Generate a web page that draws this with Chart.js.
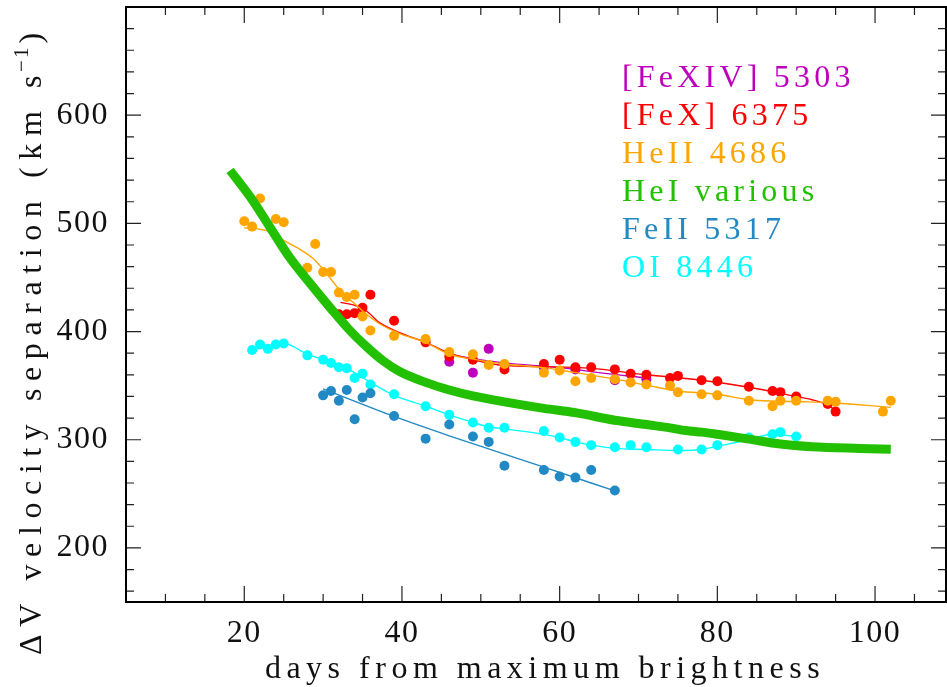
<!DOCTYPE html>
<html>
<head>
<meta charset="utf-8">
<script src="https://cdn.jsdelivr.net/npm/chart.js@4"></script>
<style>
  html, body { margin: 0; padding: 0; background: #fff; }
  #wrap { width: 947px; height: 687px; }
</style>
</head>
<body>
<div id="wrap"><canvas id="chart" width="947" height="687"></canvas></div>
<script>
// --- measured line separations (days after max, km/s) ---
const fexivDays = [46, 49, 51, 58, 62, 67, 71];
const fexivVel  = [372, 362, 384, 367, 365, 355, 356];

const fexDays = [32, 33, 34, 35, 36, 39, 43, 46, 49, 53, 58, 60, 62, 64, 67, 69, 71, 74, 75, 78, 80, 84, 87, 88, 90, 94, 95];
const fexVel  = [416, 416, 417, 422, 434, 410, 390, 377, 374, 365, 370, 374, 367, 367, 365, 361, 360, 357, 359, 355, 354, 349, 345, 344, 340, 333, 326];

const heiiDays = [20, 21, 22, 24, 25, 28, 29, 30, 31, 32, 33, 34, 35, 36, 39, 43, 46, 49, 51, 53, 58, 60, 62, 64, 67, 69, 71, 74, 75, 78, 80, 84, 87, 88, 90, 94, 95, 101, 102];
const heiiVel  = [502, 497, 523, 504, 501, 459, 481, 455, 455, 436, 432, 434, 414, 401, 396, 393, 381, 379, 369, 370, 362, 364, 354, 357, 356, 353, 351, 350, 344, 342, 341, 336, 331, 336, 336, 336, 335, 326, 336];

const feiiDays = [30, 31, 32, 33, 34, 35, 36, 39, 43, 46, 49, 51, 53, 58, 60, 62, 64, 67];
const feiiVel  = [341, 345, 336, 346, 319, 339, 343, 322, 301, 314, 303, 298, 276, 272, 266, 265, 272, 253];

const oiDays = [21, 22, 23, 24, 25, 28, 30, 31, 32, 33, 34, 35, 36, 39, 43, 46, 49, 51, 53, 58, 60, 62, 64, 67, 69, 71, 75, 78, 80, 84, 87, 88, 90];
const oiVel  = [383, 388, 384, 388, 389, 378, 374, 371, 367, 366, 357, 361, 351, 342, 331, 323, 316, 311, 311, 308, 302, 298, 295, 293, 295, 293, 291, 291, 295, 302, 305, 307, 303];

// --- smoothed trends ---
const fexivFitDays = [46, 49, 53, 58, 62, 65, 71];
const fexivFitVel  = [379, 375, 371, 368, 365, 362, 357];

const fexFitDays = [32.2, 34.3, 35.5, 37.2, 39.7, 43, 46, 49, 53, 58, 64, 71, 78, 84, 90, 92, 94, 95];
const fexFitVel  = [427, 423.5, 419, 408, 399, 390, 380, 374, 368.5, 367.5, 366, 360, 355, 348.5, 340, 337, 332, 327];

const heiiFitDays = [20, 22, 23.3, 24.1, 26.7, 28.8, 30.5, 32.2, 33.8, 35.5, 37.2, 39.7, 43, 46, 49, 53, 58, 62, 67, 71, 75, 80, 84, 90, 94, 102];
const heiiFitVel  = [496, 494.5, 492, 488, 477.5, 467, 453, 437.5, 427, 416, 407, 398, 390, 379, 374.5, 370, 366.7, 362, 356, 350.5, 345, 342, 337, 335.3, 334.4, 330];

const heiDays = [18.2, 20.8, 23.3, 25.8, 28.4, 30.9, 33.4, 35.5, 37.6, 39.7, 43, 46, 49, 53, 58, 62, 67, 71, 74, 76, 78, 80, 84, 88, 92, 98, 102];
const heiVel  = [549, 524, 496, 468, 444, 422, 401, 386, 373, 363, 353, 346, 340.5, 335, 329, 325, 318, 314, 311, 308.5, 307, 305, 300.6, 296, 293.5, 292, 291.3];

const feiiFitDays = [30, 39, 46, 58, 67];
const feiiFitVel  = [347, 321.5, 303.6, 274.6, 252.7];

const oiFitDays = [21, 23, 25, 28, 30, 33, 36, 39, 43, 46, 49, 51, 53, 58, 60, 62, 64, 67, 71, 75, 78, 80, 84, 87, 90];
const oiFitVel  = [383, 386, 389, 379, 374, 366, 353, 341, 331, 323, 316, 312, 310, 305, 302, 298, 295, 292, 291, 290, 291, 294, 300, 305, 303];

// --- axes ---
const xTickLabels = [20, 40, 60, 80, 100];
const yTickLabels = [200, 300, 400, 500, 600];

// legend entries (text, colour)
const lineNames  = ['[FeXIV] 5303', '[FeX] 6375', 'HeII 4686', 'HeI various', 'FeII 5317', 'OI 8446'];
const lineColors = ['#BE00BE', '#FF0000', '#FFA500', '#22C000', '#2189C3', '#00FFFF'];
const [cFexiv, cFex, cHeii, cHei, cFeii, cOi] = lineColors;

const SERIF = '"Liberation Serif", "DejaVu Serif", serif';

const pts = (xs, ys) => xs.map((x, i) => ({ x, y: ys[i] }));

function dots(xs, ys, color, order) {
  return { data: pts(xs, ys), backgroundColor: color, borderColor: color, pointRadius: 5, pointBorderWidth: 0, showLine: false, order };
}
function trend(xs, ys, color, width, order) {
  return { data: pts(xs, ys), borderColor: color, borderWidth: width, pointRadius: 0, showLine: true,
           cubicInterpolationMode: 'monotone', borderCapStyle: 'butt', order };
}

// keep the plot box fixed: no extra room reserved for edge labels
function fixBox(s, key, size) {
  s[key] = size;
  s.paddingTop = s.paddingBottom = s.paddingLeft = s.paddingRight = 0;
}

// frame, inward ticks, axis titles and the coloured legend text
const framePlugin = {
  id: 'framePlugin',
  beforeDraw(chart) {
    chart.ctx.letterSpacing = '1.5px';
  },
  afterDraw(chart) {
    const { ctx, chartArea: a, scales: { x, y } } = chart;
    ctx.save();
    ctx.letterSpacing = '0px';

    ctx.strokeStyle = '#222';
    ctx.lineWidth = 1.2;
    ctx.beginPath();
    for (let v = 5; v <= x.max; v += 5) {
      const px = x.getPixelForValue(v);
      const len = v % 20 === 0 ? 16 : 8;
      ctx.moveTo(px, a.bottom); ctx.lineTo(px, a.bottom - len);
      ctx.moveTo(px, a.top); ctx.lineTo(px, a.top + len);
    }
    for (let v = 160; v <= y.max; v += 20) {
      const py = y.getPixelForValue(v);
      const len = v % 100 === 0 ? 15 : 8;
      ctx.moveTo(a.left, py); ctx.lineTo(a.left + len, py);
      ctx.moveTo(a.right, py); ctx.lineTo(a.right - len, py);
    }
    ctx.stroke();

    ctx.strokeStyle = '#000';
    ctx.lineWidth = 2;
    ctx.strokeRect(a.left, a.top, a.right - a.left, a.bottom - a.top);

    // x axis title
    ctx.fillStyle = '#111';
    ctx.font = '32px ' + SERIF;
    ctx.letterSpacing = '5.5px';
    ctx.textAlign = 'center';
    ctx.textBaseline = 'alphabetic';
    ctx.fillText('days from maximum brightness', 545, 678);

    // y axis title, rotated, with superscript
    ctx.save();
    ctx.translate(41, 655);
    ctx.rotate(-Math.PI / 2);
    ctx.textAlign = 'left';
    ctx.letterSpacing = '7.6px';
    const main = 'ΔV velocity separation (km s';
    ctx.fillText(main, 0, 0);
    let w = ctx.measureText(main).width;
    ctx.font = '21px ' + SERIF;
    ctx.letterSpacing = '2px';
    ctx.fillText('−1', w - 4, -13);
    w += ctx.measureText('−1').width - 2;
    ctx.font = '32px ' + SERIF;
    ctx.letterSpacing = '0px';
    ctx.fillText(')', w, 0);
    ctx.restore();

    // legend
    ctx.font = '32px ' + SERIF;
    ctx.letterSpacing = '4.2px';
    ctx.textAlign = 'left';
    lineNames.forEach((name, i) => {
      ctx.fillStyle = lineColors[i];
      ctx.fillText(name, 622, 87 + i * 38);
    });
    ctx.restore();
  }
};

new Chart(document.getElementById('chart'), {
  type: 'scatter',
  data: {
    datasets: [
      trend(heiDays, heiVel, cHei, 9, 0),
      dots(heiiDays, heiiVel, cHeii, 1),
      trend(heiiFitDays, heiiFitVel, cHeii, 1.4, 2),
      dots(fexDays, fexVel, cFex, 3),
      trend(fexFitDays, fexFitVel, cFex, 1.4, 4),
      dots(fexivDays, fexivVel, cFexiv, 5),
      trend(fexivFitDays, fexivFitVel, cFexiv, 1.4, 6),
      dots(feiiDays, feiiVel, cFeii, 7),
      trend(feiiFitDays, feiiFitVel, cFeii, 1.4, 8),
      dots(oiDays, oiVel, cOi, 9),
      trend(oiFitDays, oiFitVel, cOi, 1.4, 10)
    ]
  },
  options: {
    responsive: false,
    animation: false,
    layout: { autoPadding: false, padding: { top: 7, right: 1, left: 0, bottom: 0 } },
    plugins: { legend: { display: false }, tooltip: { enabled: false } },
    scales: {
      x: {
        type: 'linear', min: 5, max: 109,
        grid: { display: false, drawTicks: false },
        border: { display: false },
        afterBuildTicks: s => { s.ticks = xTickLabels.map(v => ({ value: v })); },
        afterFit: s => fixBox(s, 'height', 85),
        ticks: { color: '#111', font: { family: SERIF, size: 32 }, padding: 12, maxRotation: 0 }
      },
      y: {
        type: 'linear', min: 150, max: 700,
        grid: { display: false, drawTicks: false },
        border: { display: false },
        afterBuildTicks: s => { s.ticks = yTickLabels.map(v => ({ value: v })); },
        afterFit: s => fixBox(s, 'width', 126),
        ticks: { color: '#111', font: { family: SERIF, size: 32 }, padding: 17 }
      }
    }
  },
  plugins: [framePlugin]
});
</script>
</body>
</html>
